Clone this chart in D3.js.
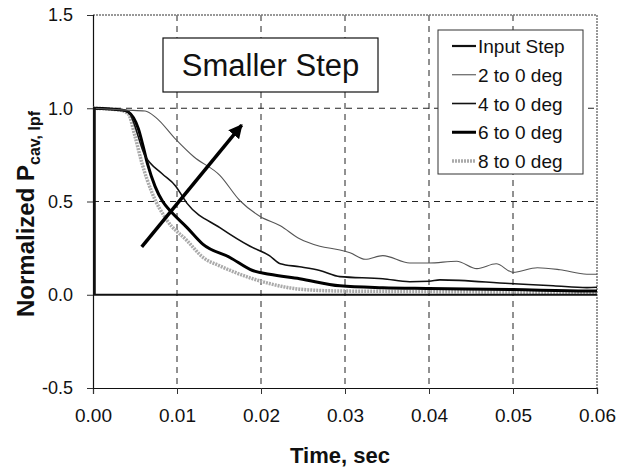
<!DOCTYPE html>
<html>
<head>
<meta charset="utf-8">
<script src="https://cdn.jsdelivr.net/npm/d3@7"></script>
<style>
  body { margin: 0; background: #fff; }
  svg { font-family: "Liberation Sans", Arial, sans-serif; }
</style>
</head>
<body>
<div id="chart"></div>
<script>
// ---- data ----
const xTicks = [0, 0.01, 0.02, 0.03, 0.04, 0.05, 0.06];
const yTicks = [-0.5, 0, 0.5, 1.0, 1.5];

const stepT = [0, 0.0002, 0.0002, 0.06];
const stepY = [1, 1, 0, 0];

const deg2T = [0, 0.004, 0.0062, 0.0075, 0.0098, 0.012, 0.0151, 0.0175, 0.0199, 0.0223, 0.0246, 0.027, 0.0294, 0.0306, 0.0324, 0.0345, 0.0377, 0.040, 0.0433, 0.0457, 0.048, 0.050, 0.0529, 0.0556, 0.0588, 0.06];
const deg2Y = [1.0, 0.99, 0.985, 0.95, 0.836, 0.74, 0.64, 0.504, 0.42, 0.37, 0.30, 0.26, 0.24, 0.225, 0.19, 0.21, 0.17, 0.17, 0.18, 0.14, 0.166, 0.12, 0.145, 0.134, 0.11, 0.11];

const deg4T = [0, 0.0035, 0.0042, 0.0062, 0.0082, 0.0098, 0.0112, 0.0151, 0.0187, 0.021, 0.0223, 0.0246, 0.027, 0.0294, 0.0345, 0.0377, 0.040, 0.0413, 0.0496, 0.0548, 0.0588, 0.06];
const deg4Y = [1.0, 0.99, 0.98, 0.745, 0.65, 0.585, 0.49, 0.36, 0.26, 0.21, 0.166, 0.15, 0.13, 0.097, 0.086, 0.07, 0.072, 0.08, 0.06, 0.048, 0.038, 0.04];

const deg6T = [0, 0.0035, 0.0042, 0.0054, 0.006, 0.0065, 0.0074, 0.0083, 0.0092, 0.0112, 0.0131, 0.0163, 0.019, 0.021, 0.0246, 0.0294, 0.0345, 0.040, 0.050, 0.0588, 0.06];
const deg6Y = [1.0, 0.99, 0.98, 0.89, 0.79, 0.70, 0.58, 0.50, 0.45, 0.36, 0.27, 0.20, 0.13, 0.11, 0.086, 0.048, 0.038, 0.034, 0.028, 0.02, 0.02];

const deg8T = [0, 0.0032, 0.0042, 0.005, 0.0058, 0.007, 0.0088, 0.0112, 0.0131, 0.0151, 0.019, 0.021, 0.0246, 0.0294, 0.040, 0.050, 0.06];
const deg8Y = [1.0, 0.99, 0.97, 0.85, 0.71, 0.55, 0.40, 0.29, 0.20, 0.155, 0.086, 0.06, 0.03, 0.02, 0.017, 0.014, 0.01];

const legendLabels = ["Input Step", "2 to 0 deg", "4 to 0 deg", "6 to 0 deg", "8 to 0 deg"];

// arrow annotation, in data units
const arrowFrom = [0.0058, 0.257];
const arrowTo = [0.0177, 0.91];

// ---- layout ----
const W = 631, H = 473;
const margin = {top: 15, right: 34, bottom: 85, left: 93};

const x = d3.scaleLinear().domain([0, 0.06]).range([margin.left, W - margin.right]);
const y = d3.scaleLinear().domain([-0.5, 1.5]).range([H - margin.bottom, margin.top]);

const svg = d3.select("#chart").append("svg")
    .attr("width", W)
    .attr("height", H);

// grid
svg.append("g")
  .selectAll("line")
  .data(xTicks.slice(1, -1))
  .join("line")
    .attr("x1", d => x(d)).attr("x2", d => x(d))
    .attr("y1", y(1.5)).attr("y2", y(-0.5))
    .attr("stroke", "#222").attr("stroke-width", 1)
    .attr("stroke-dasharray", "6,5");

svg.append("g")
  .selectAll("line")
  .data([0.5, 1.0])
  .join("line")
    .attr("x1", x(0)).attr("x2", x(0.06))
    .attr("y1", d => y(d)).attr("y2", d => y(d))
    .attr("stroke", "#222").attr("stroke-width", 1)
    .attr("stroke-dasharray", "6,5");

// frame: top + right light grey
svg.append("path")
    .attr("d", `M${x(0)},${y(1.5)}H${x(0.06)}V${y(-0.5)}`)
    .attr("fill", "none")
    .attr("stroke", "#777")
    .attr("stroke-width", 1.5)
    .attr("stroke-dasharray", "2,1");

// axes (plain hyphen for negatives, like the original)
const fmtY = d => d3.format(".1f")(d).replace("\u2212", "-");
const xAxis = d3.axisBottom(x).tickValues(xTicks).tickFormat(d3.format(".2f")).tickSize(6).tickPadding(15);
const yAxis = d3.axisLeft(y).tickValues(yTicks).tickFormat(fmtY).tickSize(6).tickPadding(14);

const gx = svg.append("g")
    .attr("transform", `translate(0,${y(-0.5)})`)
    .call(xAxis);
const gy = svg.append("g")
    .attr("transform", `translate(${x(0)},0)`)
    .call(yAxis);

[gx, gy].forEach(g => {
  g.select(".domain").attr("stroke", "#111").attr("stroke-width", 1.2);
  g.selectAll(".tick line").attr("stroke", "#333");
  g.selectAll(".tick text")
    .attr("font-family", "Liberation Sans, Arial, sans-serif")
    .attr("fill", "#111");
});
gx.selectAll(".tick text").attr("font-size", 19);
gy.selectAll(".tick text").attr("font-size", 18);

// series
const line = d3.line()
    .x(d => x(d[0]))
    .y(d => y(d[1]))
    .curve(d3.curveMonotoneX);
const lineStraight = d3.line()
    .x(d => x(d[0]))
    .y(d => y(d[1]));

function pairs(t, v) { return t.map((d, i) => [d, v[i]]); }

const styles = [
  {stroke: "#111", width: 2.2, dash: null},
  {stroke: "#555", width: 1.1, dash: null},
  {stroke: "#111", width: 1.6, dash: null},
  {stroke: "#000", width: 3, dash: null},
  {stroke: "#aaa", width: 3.5, dash: "2,1"}
];

const series = [
  pairs(deg8T, deg8Y),
  pairs(deg6T, deg6Y),
  pairs(deg4T, deg4Y),
  pairs(deg2T, deg2Y)
];
const seriesStyle = [styles[4], styles[3], styles[2], styles[1]];

series.forEach((s, i) => {
  svg.append("path")
    .attr("d", line(s))
    .attr("fill", "none")
    .attr("stroke", seriesStyle[i].stroke)
    .attr("stroke-width", seriesStyle[i].width)
    .attr("stroke-dasharray", seriesStyle[i].dash);
});

svg.append("path")
    .attr("d", lineStraight(pairs(stepT, stepY)))
    .attr("fill", "none")
    .attr("stroke", styles[0].stroke)
    .attr("stroke-width", styles[0].width);

// arrow
svg.append("defs").append("marker")
    .attr("id", "head")
    .attr("viewBox", "0 0 10 10")
    .attr("refX", 9).attr("refY", 5)
    .attr("markerWidth", 4).attr("markerHeight", 4)
    .attr("markerUnits", "strokeWidth")
    .attr("orient", "auto")
  .append("path")
    .attr("d", "M0,0L10,5L0,10z")
    .attr("fill", "#000");

svg.append("line")
    .attr("x1", x(arrowFrom[0])).attr("y1", y(arrowFrom[1]))
    .attr("x2", x(arrowTo[0])).attr("y2", y(arrowTo[1]))
    .attr("stroke", "#000")
    .attr("stroke-width", 3.5)
    .attr("marker-end", "url(#head)");

// title box
const tb = svg.append("g");
tb.append("rect")
    .attr("x", 163).attr("y", 38)
    .attr("width", 215).attr("height", 54)
    .attr("fill", "#fff").attr("stroke", "#111").attr("stroke-width", 1.2);
tb.append("text")
    .attr("x", 270.5).attr("y", 76)
    .attr("text-anchor", "middle")
    .attr("font-size", 31)
    .attr("fill", "#111")
    .text("Smaller Step");

// legend
const lg = svg.append("g");
lg.append("rect")
    .attr("x", 438).attr("y", 30)
    .attr("width", 145).attr("height", 144)
    .attr("fill", "#fff").attr("stroke", "#333").attr("stroke-width", 1);

const legendY = d3.scalePoint().domain(legendLabels).range([46, 161]);
legendLabels.forEach((lab, i) => {
  const cy = legendY(lab);
  lg.append("line")
    .attr("x1", 452).attr("x2", 476)
    .attr("y1", cy).attr("y2", cy)
    .attr("stroke", styles[i].stroke)
    .attr("stroke-width", styles[i].width)
    .attr("stroke-dasharray", styles[i].dash);
  lg.append("text")
    .attr("x", 478).attr("y", cy + 7)
    .attr("font-size", 19)
    .attr("fill", "#111")
    .text(lab);
});

// axis titles
svg.append("text")
    .attr("x", 340).attr("y", 463)
    .attr("text-anchor", "middle")
    .attr("font-size", 22)
    .attr("font-weight", "bold")
    .attr("fill", "#111")
    .text("Time, sec");

const yt = svg.append("text")
    .attr("transform", "translate(34,214) rotate(-90)")
    .attr("text-anchor", "middle")
    .attr("font-size", 24)
    .attr("font-weight", "bold")
    .attr("fill", "#111");
yt.append("tspan").text("Normalized P");
yt.append("tspan").attr("font-size", 16).attr("dy", 6).text("cav, lpf");
</script>
</body>
</html>
